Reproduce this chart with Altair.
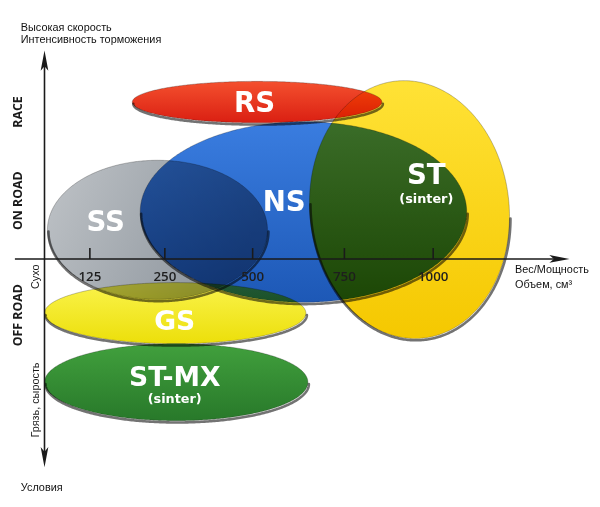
import altair as alt
import numpy as np
import pandas as pd

# ---------------- data (axis units: x from the vertical axis, y from the horizontal axis) ----
ell_names = ["ST", "RS", "NS", "SS", "GS", "ST-MX"]
ell_cx = [370, 215.5, 262.5, 114.5, 132.5, 133.5]
ell_cy = [50, 159, 47.5, 29.5, -55, -125]
ell_rx = [101, 126.5, 165.5, 111.5, 132.5, 133.5]
ell_ry = [131, 21, 91.5, 70.5, 31, 39]
ell_tilt = [6, 0, 0, 0, 0, 0]

big_labels = ["RS", "NS", "SS", "ST", "GS", "ST-MX"]
big_x = [213, 243, 62, 387, 132, 132]
big_y = [157, 57, 36, 84, -64, -121]
big_size = [28, 28, 28, 28, 27, 27]

sub_labels = ["(sinter)", "(sinter)"]
sub_x = [387, 132]
sub_y = [61, -142]

tick_labels = ["125", "250", "500", "750", "1000"]
tick_pos = [46, 122, 211, 304, 394]

zone_labels = ["RACE", "ON ROAD", "OFF ROAD"]
zone_y = [149, 59, -57]

cond_labels = ["Сухо", "Грязь, сырость"]
cond_y = [-18, -143]

top_lines = ["Высокая скорость", "Интенсивность торможения"]
right_lines = ["Вес/Мощность", "Объем, см³"]
bottom_title = "Условия"

# ---------------- styles ----------------
W, H = 592, 491
XD = [-37, 555]
YD = [-240, 251]
xs = alt.Scale(domain=XD, nice=False, zero=False)
ys = alt.Scale(domain=YD, nice=False, zero=False)

fills = {
    "ST": ("#ffe236", "#f5c800", "v"),
    "RS": ("#f4502e", "#da1f12", "v"),
    "NS": ("#3a7de0", "#1d58b6", "v"),
    "SS": ("#bfc3c7", "#8c949c", "h"),
    "GS": ("#faf34c", "#ecdf0a", "v"),
    "ST-MX": ("#41a03d", "#28792a", "v"),
}


def grad(c1, c2, d):
    if d == "v":
        return alt.Gradient(gradient="linear", x1=0, y1=0, x2=0, y2=1,
                            stops=[alt.GradientStop(color=c1, offset=0),
                                   alt.GradientStop(color=c2, offset=1)])
    return alt.Gradient(gradient="linear", x1=0, y1=0, x2=1, y2=0.3,
                        stops=[alt.GradientStop(color=c1, offset=0),
                               alt.GradientStop(color=c2, offset=1)])


def ellipse_frame(i, n=241):
    a, b = ell_rx[i], ell_ry[i]
    t = np.radians(ell_tilt[i])
    c, s = np.cos(t), np.sin(t)
    half = np.sqrt((a * c) ** 2 + (b * s) ** 2)
    u = np.linspace(0, np.pi, n)
    dx = -half * np.cos(u)
    A = (s / a) ** 2 + (c / b) ** 2
    B = 2 * dx * c * s * (1 / a ** 2 - 1 / b ** 2)
    C = dx ** 2 * ((c / a) ** 2 + (s / b) ** 2) - 1
    disc = np.clip(B ** 2 - 4 * A * C, 0, None)
    top = (-B + np.sqrt(disc)) / (2 * A)
    bot = (-B - np.sqrt(disc)) / (2 * A)
    return pd.DataFrame({"x": ell_cx[i] + dx, "y": ell_cy[i] + top, "y2": ell_cy[i] + bot})


X = lambda f: alt.X(f, scale=xs, axis=None)
Y = lambda f: alt.Y(f, scale=ys, axis=None)

layers = []
for i, name in enumerate(ell_names):
    df = ellipse_frame(i)
    c1, c2, d = fills[name]
    layers.append(
        alt.Chart(df).mark_area(color=grad(c1, c2, d), blend="multiply", stroke="#1c1c1c",
                                strokeWidth=0.8, strokeOpacity=0.35)
        .encode(x=X("x:Q"), y=Y("y:Q"), y2="y2:Q")
    )
for i, name in enumerate(ell_names):
    df = ellipse_frame(i)
    layers.append(
        alt.Chart(df).mark_line(color="#000000", strokeWidth=2.6, opacity=0.55, xOffset=1,
                                yOffset=1.8, blend="multiply", strokeCap="round")
        .encode(x=X("x:Q"), y=Y("y2:Q"))
    )

AX = "#1a1a1a"
# axes
hax = pd.DataFrame({"x": [-30], "x2": [520], "y": [0]})
layers.append(alt.Chart(hax).mark_rule(color=AX, strokeWidth=1.6)
              .encode(x=X("x:Q"), x2="x2:Q", y=Y("y:Q")))
vax = pd.DataFrame({"x": [0], "y": [-199], "y2": [199]})
layers.append(alt.Chart(vax).mark_rule(color=AX, strokeWidth=1.6)
              .encode(x=X("x:Q"), y=Y("y:Q"), y2="y2:Q"))

dart = "M1,0 L-1,-0.38 L-0.55,0 L-1,0.38 Z"
arr = pd.DataFrame({"x": [522, 0, 0], "y": [0, 201, -201], "ang": [0, 270, 90]})
layers.append(alt.Chart(arr).mark_point(shape=dart, filled=True, color=AX, opacity=1, size=420)
              .encode(x=X("x:Q"), y=Y("y:Q"), angle=alt.Angle("ang:Q", scale=None)))

ticks = pd.DataFrame({"x": tick_pos, "lab": tick_labels, "y": [0] * 5, "y2": [11] * 5, "ly": [-18] * 5})
layers.append(alt.Chart(ticks).mark_rule(color=AX, strokeWidth=1.6)
              .encode(x=X("x:Q"), y=Y("y:Q"), y2="y2:Q"))
layers.append(alt.Chart(ticks).mark_text(font="Open Sans", fontSize=13.5, fontWeight=600, color="#1e1e1e",
                                         baseline="middle", align="center")
              .encode(x=X("x:Q"), y=Y("ly:Q"), text="lab:N"))

# ellipse labels
big = pd.DataFrame({"t": big_labels, "x": big_x, "y": big_y, "s": big_size})
sub = pd.DataFrame({"t": sub_labels, "x": sub_x, "y": sub_y})
layers.append(alt.Chart(big).mark_text(font="DejaVu Sans", fontWeight="bold", color="#ffffff",
                                       baseline="middle", align="center")
              .encode(x=X("x:Q"), y=Y("y:Q"), text="t:N", size=alt.Size("s:Q", scale=None)))
layers.append(alt.Chart(sub).mark_text(font="DejaVu Sans", fontWeight="bold", fontSize=13, color="#ffffff",
                                       baseline="middle", align="center")
              .encode(x=X("x:Q"), y=Y("y:Q"), text="t:N"))

# zone labels (rotated)
zones = pd.DataFrame({"t": zone_labels, "y": zone_y, "x": [-27] * 3})
layers.append(alt.Chart(zones).mark_text(font="Open Sans", fontWeight="bold", fontSize=12.5, color="#1a1a1a",
                                         angle=270, baseline="middle", align="center")
              .encode(x=X("x:Q"), y=Y("y:Q"), text="t:N"))
conds = pd.DataFrame({"t": cond_labels, "y": cond_y, "x": [-9] * 2})
layers.append(alt.Chart(conds).mark_text(font="Liberation Sans", fontSize=11, color="#1a1a1a",
                                         angle=270, baseline="middle", align="center")
              .encode(x=X("x:Q"), y=Y("y:Q"), text="t:N"))

ann = pd.DataFrame({
    "t": top_lines + right_lines + [bottom_title],
    "x": [-24, -24, 477, 477, -24],
    "y": [234, 222, -11, -26, -232],
})
layers.append(alt.Chart(ann).mark_text(font="Liberation Sans", fontSize=11, color="#111111",
                                       baseline="middle", align="left")
              .encode(x=X("x:Q"), y=Y("y:Q"), text="t:N"))

chart = alt.layer(*layers).properties(
    width=W, height=H, padding=0, autosize=alt.AutoSizeParams(type="none"),
    background="#ffffff"
).configure_view(stroke=None)

chart.save("out.html", embed_options={"renderer": "svg", "actions": False})
